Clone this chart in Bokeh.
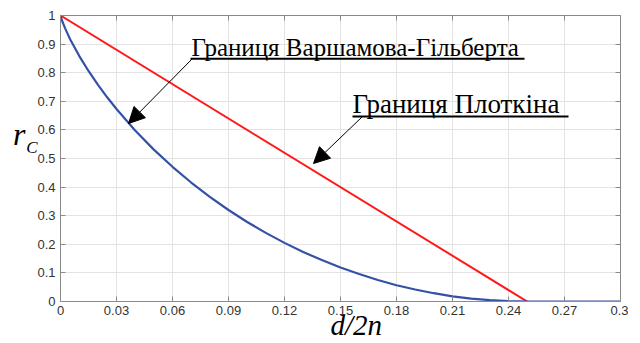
from bokeh.plotting import figure
from bokeh.models import (FixedTicker, CustomJSTickFormatter, LinearAxis, Label,
                          Arrow, NormalHead, Range1d, Title)
from bokeh.embed import file_html
from bokeh.resources import INLINE

# ---- data ----
# Gilbert-Varshamov bound
gv_x = [0, 0.001, 0.0025, 0.005, 0.01, 0.015, 0.02, 0.025, 0.03, 0.04, 0.05, 0.06,
        0.07, 0.08, 0.09, 0.10, 0.11, 0.12, 0.13, 0.14, 0.15, 0.16, 0.17, 0.18,
        0.19, 0.20, 0.21, 0.22, 0.23, 0.24, 0.25, 0.30]
gv_y = [1.0, 0.979, 0.955, 0.919, 0.859, 0.806, 0.758, 0.714, 0.673, 0.598, 0.531, 0.471,
        0.416, 0.366, 0.320, 0.278, 0.240, 0.205, 0.173, 0.145, 0.119, 0.096, 0.075, 0.057,
        0.042, 0.029, 0.018, 0.010, 0.005, 0.001, 0.0, 0.0]
# Plotkin bound
pl_x = [0, 0.25]
pl_y = [1.0, 0.0]

x_ticks = [0, 0.03, 0.06, 0.09, 0.12, 0.15, 0.18, 0.21, 0.24, 0.27, 0.3]
y_ticks = [0, 0.1, 0.2, 0.3, 0.4, 0.5, 0.6, 0.7, 0.8, 0.9, 1.0]

label_gv = "Границя Варшамова-Гільберта"
label_pl = "Границя Плоткіна"
x_label_text = "d/2n"
y_label_main = "r"
y_label_sub = "C"

W, H = 628, 343
FL, FT, FR, FB = 60, 15, 620, 301   # frame edges in page pixels
p = figure(width=W, height=H, output_backend="svg", toolbar_location=None,
           x_range=Range1d(0, 0.3), y_range=Range1d(0, 1),
           min_border_left=FL, min_border_right=W - FR, min_border_top=FT,
           min_border_bottom=H - FB)
p.background_fill_color = "white"
p.border_fill_color = "white"
p.outline_line_color = None

SERIF = "Liberation Serif"
fmt = CustomJSTickFormatter(code="return parseFloat(tick.toFixed(4)).toString();")
axis_color = "#8a8a8a"
label_color = "#333333"

for ax in [p.xaxis[0], p.yaxis[0]]:
    ax.formatter = fmt
    ax.axis_line_color = axis_color
    ax.axis_line_width = 1
    ax.major_tick_line_color = axis_color
    ax.major_tick_in = 5
    ax.major_tick_out = 0
    ax.minor_tick_line_color = None
    ax.major_label_text_font = "Liberation Sans"
    ax.major_label_text_font_size = "13px"
    ax.major_label_text_color = label_color
p.xaxis[0].ticker = FixedTicker(ticks=x_ticks)
p.yaxis[0].ticker = FixedTicker(ticks=y_ticks)
p.xaxis[0].major_label_standoff = 4
p.yaxis[0].major_label_standoff = 5

top = LinearAxis(ticker=FixedTicker(ticks=x_ticks))
right = LinearAxis(ticker=FixedTicker(ticks=y_ticks))
for ax in [top, right]:
    ax.axis_line_color = axis_color
    ax.major_tick_line_color = axis_color
    ax.major_tick_in = 5
    ax.major_tick_out = 0
    ax.minor_tick_line_color = None
    ax.major_label_text_font_size = "0px"
    ax.major_label_standoff = 0
    ax.major_label_text_color = None
p.add_layout(top, "above")
p.add_layout(right, "right")

# y-axis label r_C: two tick-less axes carrying only a label
# (a trailing empty line lifts each label above the frame's middle)
def label_axis(text, size, line_height, standoff):
    ax = LinearAxis(ticker=FixedTicker(ticks=[]))
    ax.axis_line_color = None
    ax.major_tick_line_color = None
    ax.minor_tick_line_color = None
    ax.major_tick_in = 0
    ax.major_tick_out = 0
    ax.major_label_standoff = 0
    ax.major_label_text_font_size = "0px"
    ax.axis_label = text + "\n"
    ax.axis_label_orientation = "horizontal"
    ax.axis_label_text_font = SERIF
    ax.axis_label_text_font_style = "italic"
    ax.axis_label_text_font_size = size
    ax.axis_label_text_line_height = line_height
    ax.axis_label_text_color = "black"
    ax.axis_label_standoff = standoff
    return ax

p.add_layout(label_axis(y_label_sub, "17px", 1.2, -3), "left")
p.add_layout(label_axis(y_label_main, "32px", 1.35, -2), "left")

# x-axis label d/2n
p.add_layout(Title(text=x_label_text, align="left", offset=270, vertical_align="top",
                   standoff=-17.6, text_font=SERIF, text_font_style="italic",
                   text_font_size="29px", text_color="black"), "below")

p.xgrid.ticker = FixedTicker(ticks=x_ticks)
p.ygrid.ticker = FixedTicker(ticks=y_ticks)
p.xgrid.grid_line_color = "#e3e3e3"
p.ygrid.grid_line_color = "#e3e3e3"

p.line(pl_x, pl_y, line_color="#ff1a1a", line_width=2)
p.line(gv_x, gv_y, line_color="#3451a8", line_width=2.2)

def dx(px):
    return (px - FL) / (FR - FL) * 0.3

def dy(py):
    return (FB - py) / (FB - FT)

# annotation texts (bottom of text box = baseline + descent)
p.add_layout(Label(x=dx(191), y=dy(60.4), text=label_gv, text_font=SERIF,
                   text_font_size="25px", text_color="black", text_baseline="bottom"))
p.add_layout(Label(x=dx(352), y=dy(118.8), text=label_pl, text_font=SERIF,
                   text_font_size="27px", text_color="black", text_baseline="bottom"))
# underlines
p.segment(x0=[dx(190), dx(352)], y0=[dy(58.3), dy(116)],
          x1=[dx(524), dx(568)], y1=[dy(58.3), dy(116)],
          line_color="black", line_width=2)
# arrows
for (sx, sy, ex, ey) in [(192, 58, 128, 123), (362, 116, 313, 163)]:
    p.add_layout(Arrow(x_start=dx(sx), y_start=dy(sy), x_end=dx(ex), y_end=dy(ey),
                       line_color="black", line_width=1,
                       end=NormalHead(size=16, fill_color="black", line_color="black")))

open("out.html", "w").write(file_html(p, INLINE))
